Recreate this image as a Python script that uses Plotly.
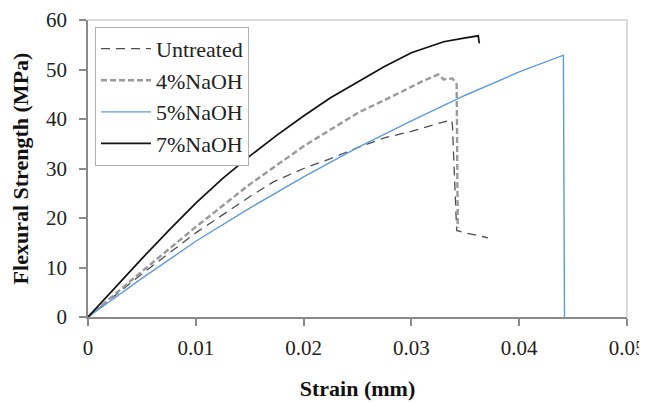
import plotly.graph_objects as go

# Strain values (mm) and flexural strength (MPa)
untreated_x = [0, 0.005, 0.01, 0.015, 0.0172, 0.02, 0.0225, 0.025, 0.0275, 0.03, 0.032, 0.0337, 0.0338, 0.0340, 0.0342, 0.035, 0.0371]
untreated_y = [0, 8.7, 17.0, 24.3, 27.3, 30.0, 32.0, 34.2, 36.2, 37.5, 38.8, 39.8, 39.0, 28.0, 17.5, 17.0, 16.0]

naoh4_x = [0, 0.005, 0.01, 0.015, 0.02, 0.025, 0.029, 0.031, 0.0325, 0.033, 0.0338, 0.0342, 0.0343]
naoh4_y = [0, 9.2, 18.2, 26.8, 34.5, 41.2, 45.4, 47.6, 49.0, 48.0, 48.2, 47.0, 18.0]

naoh5_x = [0, 0.005, 0.01, 0.015, 0.02, 0.025, 0.03, 0.035, 0.04, 0.0441, 0.0442]
naoh5_y = [0, 7.8, 15.3, 22.0, 28.3, 34.2, 39.6, 44.8, 49.5, 52.9, 0]

naoh7_x = [0, 0.0025, 0.005, 0.0075, 0.01, 0.0125, 0.015, 0.0175, 0.02, 0.0225, 0.025, 0.0275, 0.03, 0.033, 0.035, 0.0362, 0.0363]
naoh7_y = [0, 6.0, 11.8, 17.5, 23.0, 28.0, 32.5, 36.7, 40.6, 44.3, 47.5, 50.6, 53.4, 55.6, 56.4, 56.8, 55.3]

x_ticks = [0, 0.01, 0.02, 0.03, 0.04, 0.05]
y_ticks = [0, 10, 20, 30, 40, 50, 60]

FONT = "Liberation Serif"
TICK_SIZE = 21
LEGEND_SIZE = 22
TITLE_SIZE = 22

fig = go.Figure()
fig.add_trace(go.Scatter(x=untreated_x, y=untreated_y, mode="lines", name="Untreated",
                         line=dict(color="#4d4d4d", width=1.3, dash="9px,6px")))
fig.add_trace(go.Scatter(x=naoh4_x, y=naoh4_y, mode="lines", name="4%NaOH",
                         line=dict(color="#999999", width=2.4, dash="6px,3px")))
fig.add_trace(go.Scatter(x=naoh5_x, y=naoh5_y, mode="lines", name="5%NaOH",
                         line=dict(color="#5b9be0", width=1.4)))
fig.add_trace(go.Scatter(x=naoh7_x, y=naoh7_y, mode="lines", name="7%NaOH",
                         line=dict(color="#111111", width=1.7)))

# the page adds an 8px body margin, so the figure is drawn 8px smaller
fig.update_layout(
    width=639, height=394,
    margin=dict(l=80, r=20, t=12, b=85),
    paper_bgcolor="white", plot_bgcolor="white",
    font=dict(family=FONT, size=TICK_SIZE, color="#222222"),
    showlegend=True,
    legend=dict(x=0.013, y=0.977, xanchor="left", yanchor="top",
                bgcolor="white", bordercolor="#b0b0b0", borderwidth=1,
                font=dict(family=FONT, size=LEGEND_SIZE, color="#222222"),
                tracegroupgap=0, itemwidth=50),
    xaxis=dict(range=[0, 0.05], tickvals=x_ticks, ticktext=[str(v) for v in x_ticks],
               automargin=False, ticklabelstandoff=4,
               showgrid=False, zeroline=False, showline=True, linecolor="#8a8a8a", linewidth=1.5,
               ticks="outside", ticklen=7, tickcolor="#8a8a8a", tickwidth=1.5,
               tickfont=dict(family=FONT, size=TICK_SIZE, color="#222222"),
               title=dict(text="<b>Strain (mm)</b>", font=dict(family=FONT, size=TITLE_SIZE, color="#111111"), standoff=22)),
    yaxis=dict(range=[0, 60], tickvals=y_ticks, showgrid=False, zeroline=False,
               automargin=False, ticklabelstandoff=8,
               showline=True, linecolor="#8a8a8a", linewidth=1.5,
               ticks="outside", ticklen=7, tickcolor="#8a8a8a", tickwidth=1.5,
               tickfont=dict(family=FONT, size=TICK_SIZE, color="#222222"),
               title=dict(text="<b>Flexural Strength (MPa)</b>", font=dict(family=FONT, size=TITLE_SIZE, color="#111111"), standoff=12)),
    shapes=[
        dict(type="line", xref="paper", yref="paper", x0=0, x1=1, y0=1, y1=1, line=dict(color="#cfcfcf", width=1.5)),
        dict(type="line", xref="paper", yref="paper", x0=1, x1=1, y0=0, y1=1, line=dict(color="#cfcfcf", width=1.5)),
    ],
)

fig.write_html("out.html")
